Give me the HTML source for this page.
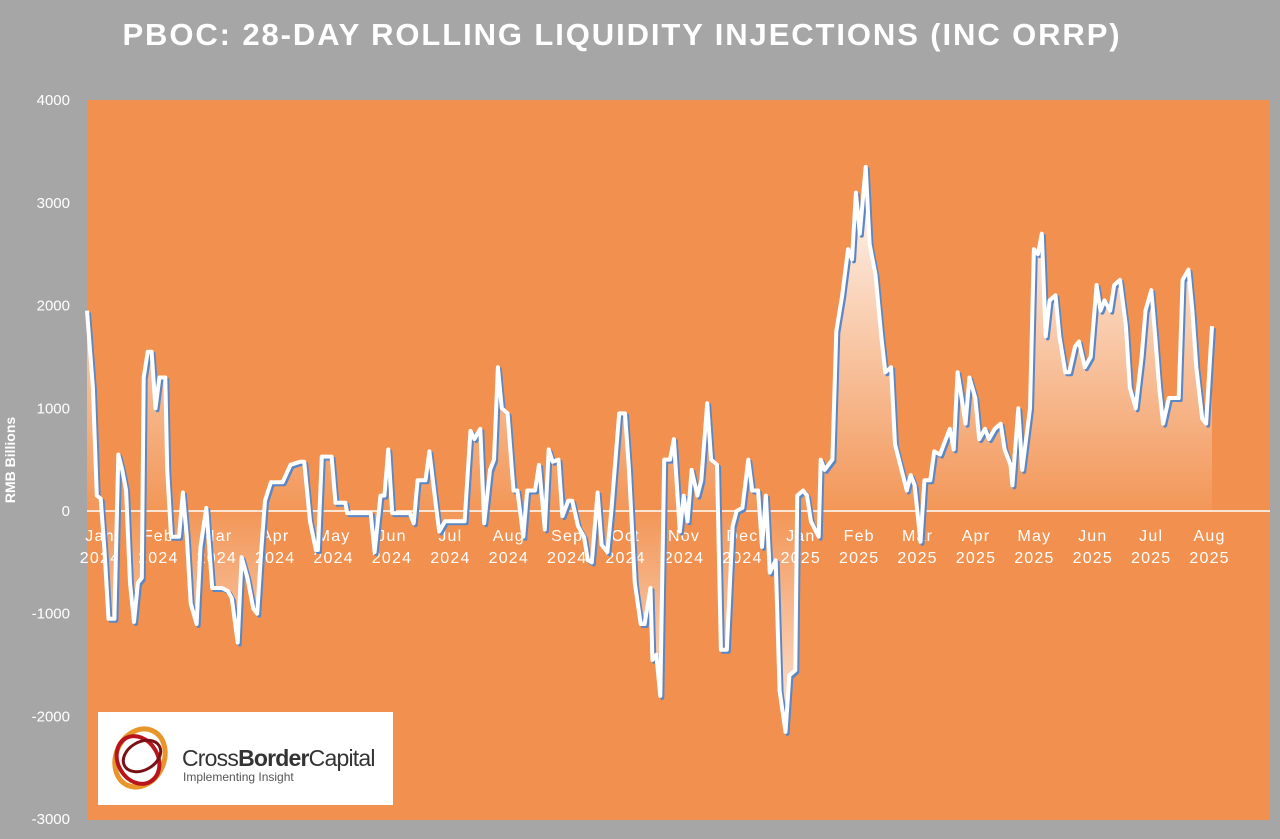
<!DOCTYPE html>
<html><head><meta charset="utf-8"><style>
body{margin:0;background:#a6a6a6;width:1280px;height:834px;overflow:hidden;font-family:"Liberation Sans",sans-serif}
</style></head><body>
<svg width="1280" height="834">
<defs>
<linearGradient id="gUp" gradientUnits="userSpaceOnUse" x1="0" y1="170" x2="0" y2="511"><stop offset="0" stop-color="#fff" stop-opacity="0.95"/><stop offset="1" stop-color="#fff" stop-opacity="0.05"/></linearGradient>
<linearGradient id="gDn" gradientUnits="userSpaceOnUse" x1="0" y1="511" x2="0" y2="740"><stop offset="0" stop-color="#fff" stop-opacity="0.05"/><stop offset="1" stop-color="#fff" stop-opacity="0.8"/></linearGradient>
<clipPath id="cUp"><rect x="0" y="0" width="1280" height="511"/></clipPath>
<clipPath id="cDn"><rect x="0" y="511" width="1280" height="400"/></clipPath>
</defs>
<rect x="0" y="0" width="1280" height="834" fill="#a6a6a6"/>
<text x="622" y="45" text-anchor="middle" fill="#fff" font-size="31" font-weight="bold" letter-spacing="1.9">PBOC: 28-DAY ROLLING  LIQUIDITY INJECTIONS (INC ORRP)</text>
<rect x="87" y="100" width="1183" height="720" fill="#f2914f"/>
<text transform="translate(15,460) rotate(-90)" text-anchor="middle" fill="#fff" font-size="14" font-weight="bold">RMB Billions</text>
<g id="yt"></g><g id="xt"></g>
<line x1="87" y1="511" x2="1270" y2="511" stroke="#fff" stroke-width="1.5"/>
<path id="areaUp" fill="url(#gUp)" clip-path="url(#cUp)"/>
<path id="areaDn" fill="url(#gDn)" clip-path="url(#cDn)"/>
<path id="shadow" fill="none" stroke="#5b87c5" stroke-width="4" stroke-linejoin="round" transform="translate(2,2)"/>
<path id="line" fill="none" stroke="#fff" stroke-width="4" stroke-linejoin="round"/>
<g>
<rect x="98" y="712" width="295" height="93" fill="#fff"/>
<ellipse cx="140" cy="758" rx="24" ry="30" fill="none" stroke="#e8962a" stroke-width="5" transform="rotate(25 140 758)"/>
<ellipse cx="138" cy="760" rx="20" ry="25" fill="none" stroke="#b8141c" stroke-width="4" transform="rotate(-30 138 760)"/>
<ellipse cx="142" cy="756" rx="14" ry="20" fill="none" stroke="#7a1016" stroke-width="3" transform="rotate(60 142 756)"/>
<text x="182" y="766" font-size="23" fill="#333" letter-spacing="-0.8">Cross<tspan font-weight="bold">Border</tspan>Capital</text>
<text x="183" y="781" font-size="12" fill="#555">Implementing Insight</text>
</g>
</svg>
<script>
const days=[0,3,5,7,9,11,14,16,18,20,22,24,26,28,29,31,33,35,37,40,41,43,47,49,51,53,56,58,61,64,69,72,74,77,79,82,85,87,89,91,94,100,104,109,111,114,117,118,120,125,127,132,133,145,147,150,152,154,156,165,167,169,173,175,178,180,183,193,196,198,201,203,206,208,210,212,215,218,220,223,225,229,231,234,236,238,241,243,246,248,251,254,256,258,261,263,266,268,272,275,277,280,283,285,288,289,291,293,295,298,300,303,305,307,309,312,314,317,319,322,324,327,330,332,335,338,340,343,345,347,349,352,354,357,359,362,363,366,368,370,374,375,377,381,383,386,389,391,393,395,398,400,403,406,408,411,413,415,419,421,423,426,428,431,433,436,438,441,443,445,447,449,451,454,456,459,461,464,467,469,472,473,476,478,480,482,484,486,488,490,492,495,497,500,502,505,507,510,513,516,518,520,523,525,528,531,533,536,539,541,544,546,548,550,553,558,560,563,565,567,570,572,575];
const values=[1950,1200,150,120,-400,-1050,-1050,550,400,200,-700,-1080,-700,-650,1300,1550,1550,1000,1300,1300,400,-250,-250,180,-250,-900,-1100,-350,30,-750,-750,-780,-850,-1280,-450,-650,-950,-1000,-400,100,280,280,450,480,480,-100,-380,-380,530,530,80,80,-20,-20,-400,150,150,600,-20,-20,-120,300,300,580,100,-200,-100,-100,780,700,800,-120,400,500,1400,1000,950,200,200,-250,200,200,450,-180,600,480,500,-50,100,100,-150,-250,-480,-500,180,-330,-400,0,950,950,400,-700,-1100,-1100,-750,-1450,-1400,-1800,500,500,700,-200,150,-100,400,150,300,1050,500,450,-1350,-1350,-150,0,30,500,200,200,-350,150,-600,-480,-1750,-2150,-1600,-1550,150,200,150,-100,-250,500,400,500,1750,2100,2550,2450,3100,2700,3350,2600,2300,1700,1350,1400,650,500,200,350,250,-300,300,300,580,550,650,800,600,1350,1100,850,1300,1100,700,800,700,800,850,600,450,250,1000,400,700,1000,2550,2500,2700,1700,2050,2100,1700,1350,1350,1600,1650,1400,1500,2200,1950,2050,1950,2200,2250,1800,1200,1000,1500,1950,2150,1700,1200,850,1100,1100,2250,2350,1950,1400,900,850,1800];
const yTicks=[4000,3000,2000,1000,0,-1000,-2000,-3000];
const monthNames=["Jan","Feb","Mar","Apr","May","Jun","Jul","Aug","Sep","Oct","Nov","Dec","Jan","Feb","Mar","Apr","May","Jun","Jul","Aug"];
const monthYears=["2024","2024","2024","2024","2024","2024","2024","2024","2024","2024","2024","2024","2025","2025","2025","2025","2025","2025","2025","2025"];
const X=d=>87+d*1.9565;
const Y=v=>511-v*0.10271;
const XL=i=>100+i*58.4;
const NS="http://www.w3.org/2000/svg";
const yt=document.getElementById('yt');
yTicks.forEach(t=>{const e=document.createElementNS(NS,'text');


e.setAttribute('x',70);e.setAttribute('y',Y(t)+5);e.setAttribute('text-anchor','end');e.setAttribute('fill','#fff');e.setAttribute('font-size','15');e.textContent=t;yt.appendChild(e);});
const xt=document.getElementById('xt');
monthNames.forEach((m,i)=>{const cx=XL(i);
[[m,541],[monthYears[i],563]].forEach(([s,y])=>{const e=document.createElementNS(NS,'text');


e.setAttribute('x',cx);e.setAttribute('y',y);e.setAttribute('text-anchor','middle');e.setAttribute('fill','#fff');e.setAttribute('font-size','16');e.setAttribute('letter-spacing','1.2');e.textContent=s;xt.appendChild(e);});});
let d='';days.forEach((dd,i)=>{d+=(i?'L':'M')+X(dd).toFixed(1)+','+Y(values[i]).toFixed(1);});
document.getElementById('line').setAttribute('d',d);
document.getElementById('shadow').setAttribute('d',d);
const area=d+'L'+X(days[days.length-1]).toFixed(1)+','+Y(0)+'L'+X(days[0])+','+Y(0)+'Z';
document.getElementById('areaUp').setAttribute('d',area);
document.getElementById('areaDn').setAttribute('d',area);
</script>
</body></html>
